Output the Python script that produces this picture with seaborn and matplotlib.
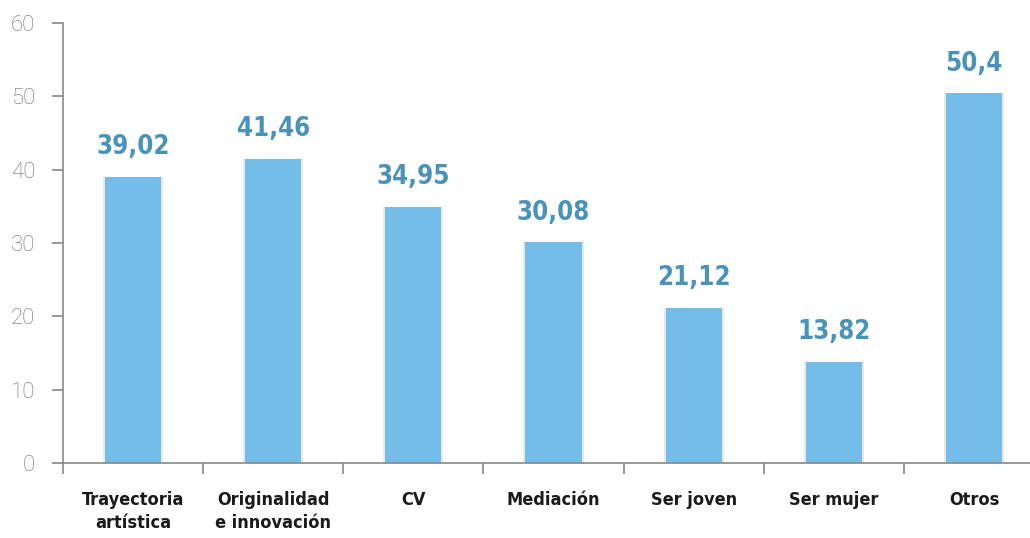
import matplotlib
matplotlib.use("Agg")
import matplotlib.pyplot as plt
import matplotlib.patheffects as pe
import pandas as pd
import seaborn as sns

categories = ["Trayectoria\nartística", "Originalidad\ne innovación", "CV", "Mediación",
              "Ser joven", "Ser mujer", "Otros"]
values = [39.02, 41.46, 34.95, 30.08, 21.12, 13.82, 50.4]
value_labels = ["39,02", "41,46", "34,95", "30,08", "21,12", "13,82", "50,4"]
y_ticks = [0, 10, 20, 30, 40, 50, 60]

df = pd.DataFrame({"categoria": categories, "valor": values})

sns.set_theme(style="white")
plt.rcParams["font.family"] = ["Roboto", "DejaVu Sans"]

fig = plt.figure(figsize=(10.30, 5.38), dpi=100)
ax = fig.add_axes([63 / 1030, 1 - 463 / 538, 1 - 63 / 1030, 440 / 538])

sns.barplot(data=df, x="categoria", y="valor", color="#74BDE8", saturation=1,
            width=0.4, linewidth=0, ax=ax)
# soft grey shadow on both sides of each bar
for bar in ax.patches:
    bar.set_path_effects([pe.SimplePatchShadow(offset=(1.5, 0), shadow_rgbFace="#888888", alpha=0.18),
                          pe.SimplePatchShadow(offset=(-1.5, 0), shadow_rgbFace="#888888", alpha=0.18),
                          pe.Normal()])

cond = dict(family=["DejaVu Sans"], stretch="condensed")
for i, (v, lab) in enumerate(zip(values, value_labels)):
    ax.annotate(lab, (i, v), xytext=(0, 12), textcoords="offset points",
                ha="center", va="bottom", fontsize=18.5, fontweight="bold", color="#4A93B8", **cond)

ax.set_yticks(y_ticks)
ax.set_yticklabels([str(t) for t in y_ticks], fontsize=16, color="#6f6f6f",
                   family=["Roboto", "DejaVu Sans"], fontweight="light")
ax.set_xticks(range(len(categories)))
ax.set_xticklabels(categories, fontsize=13, fontweight="bold", color="#1a1a1a",
                   linespacing=1.35, **cond)
ax.set_xticks([i - 0.5 for i in range(len(categories) + 1)], minor=True)
ax.tick_params(axis="x", which="major", bottom=False, length=0, pad=20)
ax.tick_params(axis="x", which="minor", bottom=True, length=8, width=1.2, color="#888888", direction="out")
ax.tick_params(axis="y", left=True, length=8, width=1.2, color="#888888", direction="out", pad=12)
ax.set_xlim(-0.5, 6.4)
ax.set_ylim(0, 60)
ax.set_xlabel("")
ax.set_ylabel("")

for s in ["top", "right"]:
    ax.spines[s].set_visible(False)
for s in ["left", "bottom"]:
    ax.spines[s].set_color("#888888")
    ax.spines[s].set_linewidth(1.2)

fig.savefig("out.png", dpi=100)
